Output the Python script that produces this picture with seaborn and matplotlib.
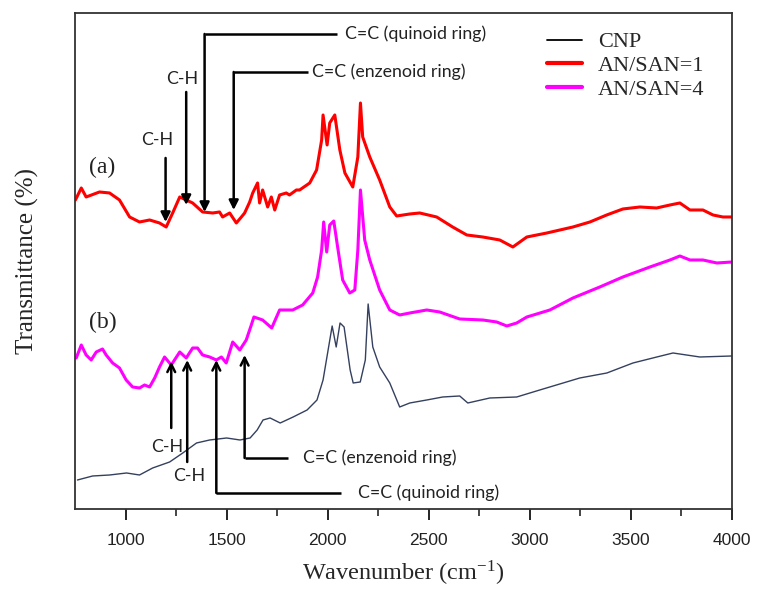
import matplotlib
matplotlib.use("Agg")
import matplotlib.pyplot as plt
import seaborn as sns
import pandas as pd

# ---- data (wavenumber cm^-1, transmittance arbitrary units) ----
red_x = [752, 781, 805, 871, 921, 970, 1020, 1069, 1119, 1168, 1201, 1233, 1268, 1300, 1332,
         1381, 1431, 1465, 1480, 1515, 1548, 1573, 1589, 1614, 1629, 1653, 1663, 1678, 1703,
         1721, 1738, 1762, 1795, 1811, 1845, 1861, 1911, 1945, 1970, 1977, 1997, 2010, 2035,
         2060, 2085, 2124, 2149, 2162, 2173, 2208, 2257, 2307, 2341, 2406, 2455, 2539, 2618,
         2688, 2767, 2851, 2916, 2985, 3084, 3213, 3297, 3380, 3460, 3544, 3627, 3693, 3742,
         3792, 3856, 3906, 3955, 4000]
red_y = [61.8, 64.2, 62.4, 63.4, 63.2, 61.8, 58.4, 57.4, 57.8, 57.2, 56.4, 59.2, 62.4, 61.8, 61.2,
         59.4, 59.2, 59.4, 58.4, 59.2, 57.2, 58.4, 59.2, 61.4, 63.2, 65.2, 61.2, 63.8, 60.4,
         62.4, 59.8, 62.8, 63.2, 62.8, 63.8, 63.8, 65.2, 67.8, 73.8, 78.8, 72.8, 77.2, 78.8,
         71.8, 67.2, 64.4, 70.4, 81.2, 74.4, 70.4, 65.8, 60.4, 58.6, 59.0, 59.2, 58.4, 56.4,
         54.8, 54.4, 53.8, 52.4, 54.4, 55.2, 56.4, 57.4, 58.8, 60.0, 60.4, 60.2, 60.8, 61.2,
         59.8, 59.8, 58.8, 58.4, 58.4]

mag_x = [756, 781, 805, 830, 855, 886, 904, 936, 970, 1003, 1035, 1069, 1094, 1119, 1144,
         1168, 1193, 1226, 1268, 1300, 1332, 1356, 1381, 1416, 1449, 1474, 1498, 1530, 1565,
         1597, 1622, 1635, 1678, 1723, 1762, 1827, 1876, 1926, 1950, 1970, 1980, 1995, 2010,
         2030, 2049, 2074, 2109, 2134, 2149, 2162, 2183, 2208, 2257, 2307, 2356, 2406, 2490,
         2554, 2653, 2767, 2836, 2886, 2935, 2985, 3099, 3213, 3346, 3460, 3594, 3693, 3742,
         3792, 3856, 3925, 4000]
mag_y = [30.2, 32.8, 30.8, 29.8, 31.4, 32.0, 30.8, 29.2, 28.2, 25.8, 24.4, 24.2, 24.8, 24.4, 26.2,
         28.4, 30.4, 28.8, 31.4, 30.2, 32.2, 32.2, 30.8, 30.4, 29.8, 30.4, 29.2, 33.4, 31.8,
         33.8, 36.8, 38.4, 37.8, 36.2, 39.8, 39.8, 40.8, 43.2, 46.4, 51.8, 57.4, 51.4, 56.8,
         57.6, 52.4, 45.8, 43.2, 43.8, 51.8, 63.8, 53.8, 49.8, 43.8, 39.8, 38.8, 39.2, 39.8,
         39.4, 38.0, 37.8, 37.4, 36.6, 37.2, 38.4, 39.8, 42.2, 44.4, 46.4, 48.4, 49.8, 50.6,
         49.8, 49.8, 49.2, 49.4]

cnp_x = [762, 837, 921, 1005, 1069, 1134, 1218, 1283, 1351, 1416, 1500, 1566, 1616, 1651, 1680,
         1715, 1765, 1829, 1898, 1947, 1977, 2002, 2022, 2042, 2061, 2081, 2111, 2126, 2161,
         2186, 2200, 2223, 2257, 2307, 2356, 2406, 2490, 2569, 2653, 2693, 2802, 2935, 3049,
         3247, 3381, 3510, 3628, 3708, 3841, 4000]
cnp_y = [5.8, 6.6, 6.8, 7.2, 6.8, 8.2, 9.4, 11.2, 13.2, 13.8, 14.2, 13.8, 14.2, 15.8, 17.8,
         18.2, 17.2, 18.4, 19.8, 21.8, 25.8, 31.8, 36.6, 32.4, 37.2, 36.4, 27.8, 25.2, 25.4,
         29.8, 41.0, 32.4, 28.4, 25.2, 20.4, 21.2, 21.8, 22.4, 22.6, 21.2, 22.2, 22.4, 23.8,
         26.2, 27.2, 29.2, 30.4, 31.2, 30.4, 30.6]

series_names = ["CNP", "AN/SAN=1", "AN/SAN=4"]
x_ticks = [1000, 1500, 2000, 2500, 3000, 3500, 4000]

sns.set_style("white")
plt.rcParams["mathtext.fontset"] = "stix"

fig = plt.figure(figsize=(7.57, 5.90), dpi=100)
ax = fig.add_axes([0.0991, 0.1373, 0.8679, 0.8407])

sns.lineplot(x=cnp_x, y=cnp_y, color="#34405e", lw=1.0, ax=ax, label=series_names[0])
sns.lineplot(x=red_x, y=red_y, color="#ff0000", lw=2.2, ax=ax, label=series_names[1])
sns.lineplot(x=mag_x, y=mag_y, color="#ff00ff", lw=2.2, ax=ax, label=series_names[2])

ax.set_xlim(750, 4000)
ax.set_ylim(0, 99.2)
ax.set_xticks(x_ticks)
ax.set_xticks([1250, 1750, 2250, 2750, 3250, 3750], minor=True)
ax.set_yticks([])
ax.tick_params(axis="x", which="major", direction="out", length=8, width=1.2,
               bottom=True, top=False, labelsize=12.5, pad=9, colors="black")
ax.tick_params(axis="x", which="minor", direction="out", length=5, width=1.2, bottom=True)
for lab in ax.get_xticklabels():
    lab.set_fontfamily("Liberation Sans")
    lab.set_color("#222222")
for sp in ax.spines.values():
    sp.set_color("#333333")
    sp.set_linewidth(1.3)

ax.set_xlabel(r"Wavenumber (cm$^{\mathregular{-1}}$)", fontfamily="Liberation Serif",
              fontsize=17.5, labelpad=8)
ax.set_ylabel("Transmittance (%)", fontfamily="Liberation Serif", fontsize=18, labelpad=26)

leg = ax.legend(loc="upper left", bbox_to_anchor=(0.718, 0.962), frameon=False,
                prop={"family": "Liberation Serif", "size": 16}, handlelength=1.6,
                handletextpad=0.7, labelspacing=0.15, borderpad=0, borderaxespad=0)
lw_leg = [1.3, 3.0, 3.0]
col_leg = ["black", "#ff0000", "#ff00ff"]
for h, w, c in zip(leg.legend_handles, lw_leg, col_leg):
    h.set_linewidth(w)
    h.set_color(c)

# ---- annotations ----
afont = dict(family="Lato", size=12.8, color="#222222")
lk = dict(color="black", lw=1.8, solid_capstyle="butt")

def arrow(x, y0, y1, filled=True):
    style = "-|>" if filled else "->"
    ax.annotate("", xy=(x, y1), xytext=(x, y0),
                arrowprops=dict(arrowstyle=style, color="black", lw=1.8,
                                mutation_scale=14, shrinkA=0, shrinkB=0))

# top (a)
arrow(1198, 70.2, 57.4)
ax.text(1157, 73.8, "C-H", ha="center", va="center", **afont)
arrow(1300, 83.4, 60.8)
ax.text(1282, 86.0, "C-H", ha="center", va="center", **afont)
ax.plot([1391, 2044], [95.0, 95.0], **lk)
arrow(1391, 95.0, 59.4)
ax.text(2084, 95.0, "C=C (quinoid ring)", ha="left", va="center", **afont)
ax.plot([1535, 1901], [87.4, 87.4], **lk)
arrow(1535, 87.4, 59.8)
ax.text(1921, 87.4, "C=C (enzenoid ring)", ha="left", va="center", **afont)

# bottom (b)
arrow(1226, 16.2, 29.5, filled=False)
ax.text(1208, 12.4, "C-H", ha="center", va="center", **afont)
arrow(1305, 9.4, 29.8, filled=False)
ax.text(1317, 6.6, "C-H", ha="center", va="center", **afont)
ax.plot([1449, 2064], [3.2, 3.2], **lk)
arrow(1449, 3.2, 29.8, filled=False)
ax.text(2148, 3.2, "C=C (quinoid ring)", ha="left", va="center", **afont)
ax.plot([1589, 1802], [10.2, 10.2], **lk)
arrow(1589, 10.2, 30.8, filled=False)
ax.text(1876, 10.2, "C=C (enzenoid ring)", ha="left", va="center", **afont)

ax.text(886, 68.4, "(a)", ha="center", va="center", family="Liberation Serif", fontsize=17, color="#222222")
ax.text(886, 37.4, "(b)", ha="center", va="center", family="Liberation Serif", fontsize=17, color="#222222")

fig.savefig("out.png", dpi=100)
